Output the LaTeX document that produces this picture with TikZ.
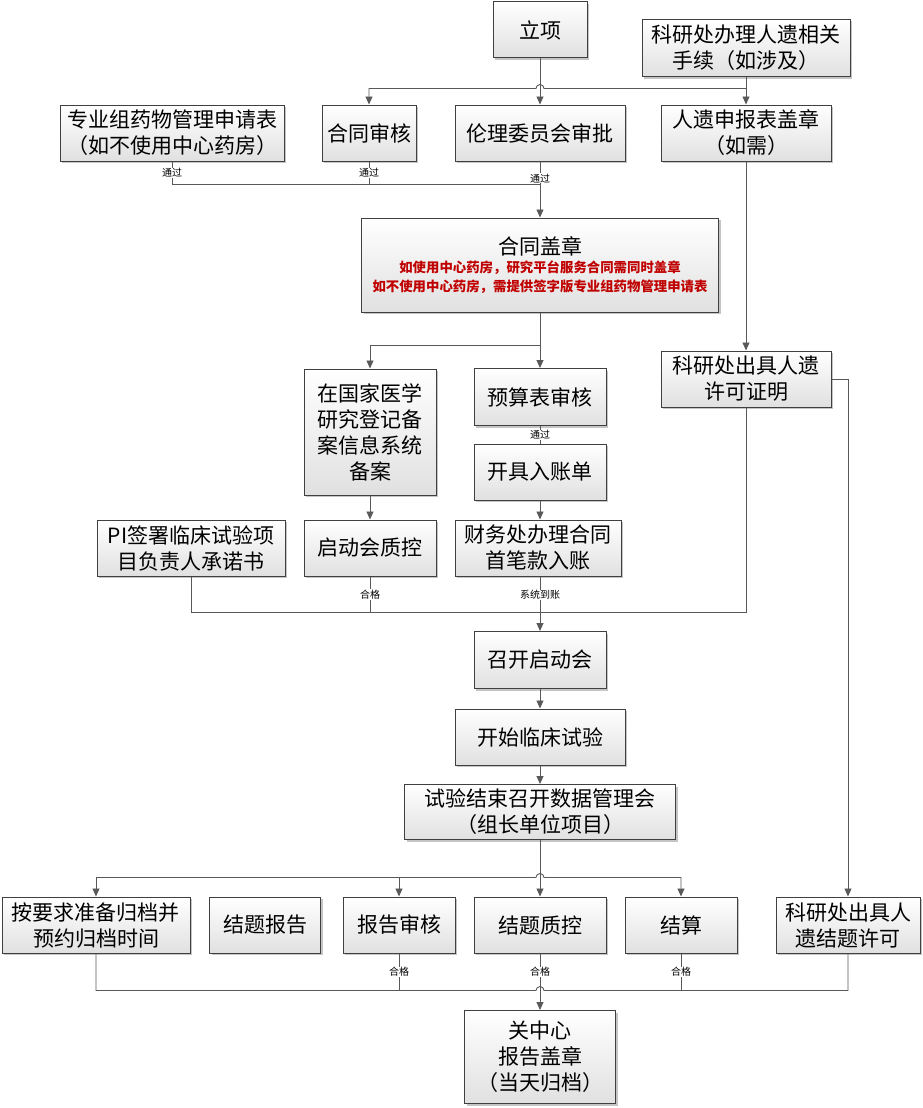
\documentclass[tikz,border=0pt]{standalone}
\usepackage{fontspec}
\setmainfont{Noto Sans CJK SC}
\usetikzlibrary{arrows.meta,shadows}
\definecolor{boxline}{HTML}{404040}
\definecolor{conn}{HTML}{595959}
\definecolor{hred}{HTML}{C00000}
\newcommand\redtxt[1]{{\color{hred}\bfseries\fontsize{13.4}{16}\selectfont #1}}
\tikzset{
  box/.style={draw=boxline, line width=1pt, top color=white, bottom color=black!12,
    align=center, inner sep=2pt, font=\fontsize{21}{26}\selectfont,
    drop shadow={shadow xshift=2pt, shadow yshift=-2pt, fill=black!45, opacity=0.5}},
  line/.style={draw=conn, line width=0.9pt},
  arr/.style={line, -{Triangle[length=8pt,width=7pt]}},
  lbl/.style={fill=white, inner sep=0.5pt, font=\fontsize{10}{12}\selectfont}
}
\begin{document}
\begin{tikzpicture}[x=1pt, y=-1pt]
\useasboundingbox (0,0) rectangle (922,1108);
\node[box, minimum width=94pt, minimum height=56pt] (lixiang) at (540, 30) {立项};
\node[box, minimum width=208pt, minimum height=57pt] (kyban) at (746, 48) {科研处办理人遗相关\\手续（如涉及）};
\node[box, minimum width=224pt, minimum height=56pt] (zhuanye) at (172, 133) {专业组药物管理申请表\\（如不使用中心药房）};
\node[box, minimum width=94pt, minimum height=56pt] (hetong) at (369, 133) {合同审核};
\node[box, minimum width=170pt, minimum height=56pt] (lunli) at (540, 133) {伦理委员会审批};
\node[box, minimum width=170pt, minimum height=56pt] (renyi) at (746, 133) {人遗申报表盖章\\（如需）};
\node[box, minimum width=357pt, minimum height=94pt] (gaizhang) at (540, 265) {合同盖章\\[-8pt]\redtxt{如使用中心药房，研究平台服务合同需同时盖章}\\[-7pt]\redtxt{如不使用中心药房，需提供签字版专业组药物管理申请表}};
\node[box, minimum width=132pt, minimum height=126pt] (beian) at (370, 432) {在国家医学\\研究登记备\\案信息系统\\备案};
\node[box, minimum width=132pt, minimum height=57pt] (yusuan) at (540, 397) {预算表审核};
\node[box, minimum width=132pt, minimum height=56pt] (ruzhang) at (540, 472) {开具入账单};
\node[box, minimum width=166pt, minimum height=56pt] (caiwu) at (538, 548) {财务处办理合同\\首笔款入账};
\node[box, minimum width=132pt, minimum height=56pt] (qidongzk) at (370, 548) {启动会质控};
\node[box, minimum width=188pt, minimum height=56pt] (pi) at (191, 548) {PI签署临床试验项\\目负责人承诺书};
\node[box, minimum width=170pt, minimum height=56pt] (xuke) at (746, 379) {科研处出具人遗\\许可证明};
\node[box, minimum width=132pt, minimum height=57pt] (zhaokai) at (540, 660) {召开启动会};
\node[box, minimum width=170pt, minimum height=56pt] (kaishi) at (540, 737) {开始临床试验};
\node[box, minimum width=271pt, minimum height=55pt] (shujuhui) at (540, 812) {试验结束召开数据管理会\\（组长单位项目）};
\node[box, minimum width=188pt, minimum height=56pt] (guidang) at (96, 925) {按要求准备归档并\\预约归档时间};
\node[box, minimum width=111pt, minimum height=56pt] (jtbg) at (265, 925) {结题报告};
\node[box, minimum width=112pt, minimum height=56pt] (bgsh) at (399, 925) {报告审核};
\node[box, minimum width=132pt, minimum height=56pt] (jtzk) at (540, 925) {结题质控};
\node[box, minimum width=112pt, minimum height=56pt] (jiesuan) at (681, 925) {结算};
\node[box, minimum width=144pt, minimum height=56pt] (jtxk) at (848, 925) {科研处出具人\\遗结题许可};
\node[box, minimum width=151pt, minimum height=93pt] (guanzx) at (540, 1057) {关中心\\报告盖章\\（当天归档）};
\coordinate (j1) at (540, 88.5);
\coordinate (j2) at (540, 184.5);
\coordinate (j3) at (540, 345.5);
\coordinate (j4) at (540, 612.5);
\coordinate (j5) at (540, 877.5);
\coordinate (j6) at (540, 990.5);
\draw[arr] (lixiang) -- (lunli);
\draw[arr] (kyban) -- (renyi);
\draw[arr] (renyi.north |- j1) -- ([xshift=4pt]j1) arc[start angle=0, end angle=180, radius=4pt] -| (hetong);
\draw[line] (zhuanye) -- node[lbl]{通过} (zhuanye |- j2) -- (j2);
\draw[line] (hetong) -- node[lbl]{通过} (hetong |- j2);
\draw[arr] (lunli) -- node[lbl, pos=0.3]{通过} (gaizhang);
\draw[arr] (gaizhang) -- (yusuan);
\draw[arr] (j3) -| (beian);
\draw[line] (yusuan) -- node[lbl]{通过} (ruzhang);
\draw[arr] (ruzhang) -- (ruzhang |- caiwu.north);
\draw[arr] (beian) -- (qidongzk);
\draw[arr] (renyi) -- (xuke);
\draw[arr] (xuke) -| (jtxk);
\draw[line] (xuke) |- (j4);
\draw[line] (pi) |- (j4);
\draw[line] (qidongzk) -- node[lbl]{合格} (qidongzk |- j4);
\draw[arr] (zhaokai |- caiwu.south) -- node[lbl, pos=0.34]{系统到账} (zhaokai);
\draw[arr] (zhaokai) -- (kaishi);
\draw[arr] (kaishi) -- (shujuhui);
\draw[arr] (shujuhui) -- (jtzk);
\draw[arr] ([xshift=-4pt]j5) -| (guidang);
\draw[arr] ([xshift=-4pt]j5) arc[start angle=180, end angle=0, radius=4pt] -| (jiesuan);
\draw[arr] (bgsh |- j5) -- (bgsh);
\draw[line] (guidang) |- ([xshift=-4pt]j6) arc[start angle=180, end angle=0, radius=4pt] -| (jtxk);
\draw[line] (bgsh) -- node[lbl]{合格} (bgsh |- j6);
\draw[line] (jiesuan) -- node[lbl]{合格} (jiesuan |- j6);
\draw[arr] (jtzk) -- node[lbl, pos=0.33]{合格} (guanzx);
\end{tikzpicture}
\end{document}
